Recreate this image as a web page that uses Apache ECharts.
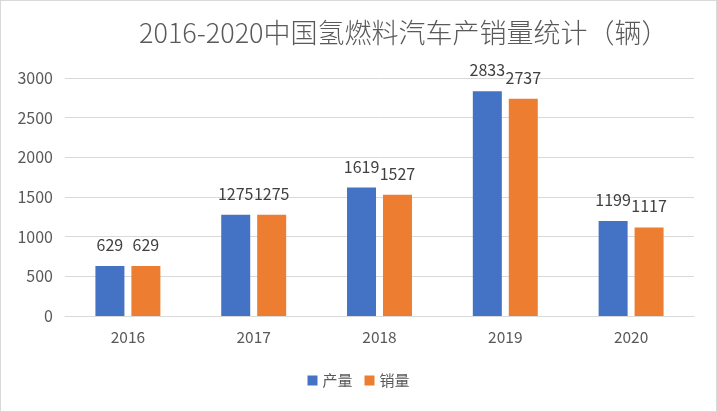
<!DOCTYPE html>
<html><head><meta charset="utf-8">
<script src="https://cdn.jsdelivr.net/npm/echarts@6/dist/echarts.min.js"></script>
<style>html,body{margin:0;padding:0;background:#fff;}
#c{position:absolute;left:0;top:0;width:715px;height:410px;border:1px solid #d9d9d9;}</style>
</head><body><div id="c"></div>
<script>
const categories = ['2016','2017','2018','2019','2020'];
const production = [629,1275,1619,2833,1199];
const sales = [629,1275,1527,2737,1117];
const yTicks = [0,500,1000,1500,2000,2500,3000];
const chart = echarts.init(document.getElementById('c'));
const font = '"Noto Sans CJK SC", "Noto Sans", sans-serif';
chart.setOption({
  animation:false,
  textStyle:{fontFamily:font},
  title:{text:'2016-2020中国氢燃料汽车产销量统计（辆）',left:133,top:13,
    textStyle:{fontSize:27,fontWeight:300,color:'#595959',fontFamily:font}},
  legend:{bottom:18,left:'center',itemWidth:10,itemHeight:10,itemGap:12,icon:'rect',
    textStyle:{fontSize:15,color:'#595959',fontFamily:font}},
  grid:{left:64,right:22,top:77,bottom:95},
  xAxis:{type:'category',data:categories,
    axisLine:{lineStyle:{color:'#d9d9d9'}},axisTick:{show:false},
    axisLabel:{fontSize:15.5,color:'#595959',margin:13}},
  yAxis:{type:'value',min:0,max:3000,interval:500,
    axisLine:{show:false},axisTick:{show:false},
    splitLine:{lineStyle:{color:'#d9d9d9'}},
    axisLabel:{fontSize:16,color:'#595959',margin:12,
      formatter:v=>yTicks.includes(v)?String(v):''}},
  series:[
    {name:'产量',type:'bar',data:production,barWidth:29,barGap:'24%',
     itemStyle:{color:'#4472c4'},
     label:{show:true,position:'top',distance:13,fontSize:16,color:'#404040'}},
    {name:'销量',type:'bar',data:sales,barWidth:29,
     itemStyle:{color:'#ed7d31'},
     label:{show:true,position:'top',distance:13,fontSize:16,color:'#404040'}}
  ]
});
</script></body></html>
